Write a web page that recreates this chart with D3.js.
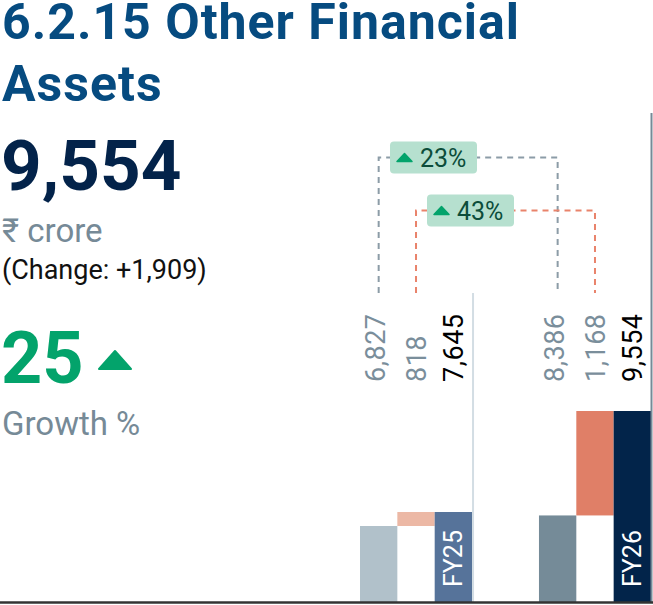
<!DOCTYPE html>
<html>
<head>
<meta charset="utf-8">
<script src="https://cdn.jsdelivr.net/npm/d3@7"></script>
<style>
  body { margin: 0; background: #fff; }
  svg { display: block; font-family: Roboto, "Noto Sans", sans-serif; }
</style>
</head>
<body>
<div id="main"></div>
<script>
// data
const years = ["FY25", "FY26"];
const opening = [6827, 8386];
const change = [818, 1168];
const closing = [7645, 9554];
const headlineTotal = 9554;
const headlineChange = 1909;
const headlineGrowth = 25;

const width = 653;
const height = 605;
const baseY = 602;

const fmt = d3.format(",");

const svg = d3.select("div#main").append("svg")
  .attr("width", width)
  .attr("height", height);

// left-hand headline block
svg.append("text").attr("x", 2).attr("y", 39)
  .attr("font-size", 50).attr("font-weight", 700).attr("fill", "#064b80")
  .attr("letter-spacing", 1)
  .text("6.2.15 Other Financial");
svg.append("text").attr("x", 2).attr("y", 101)
  .attr("font-size", 50).attr("font-weight", 700).attr("fill", "#064b80")
  .attr("letter-spacing", 1)
  .text("Assets");
svg.append("text").attr("x", 1).attr("y", 190)
  .attr("font-size", 71).attr("font-weight", 700).attr("fill", "#03234a")
  .text(fmt(headlineTotal));
svg.append("text").attr("x", 2).attr("y", 242)
  .attr("font-size", 33).attr("fill", "#768a97")
  .text("₹ crore");
svg.append("text").attr("x", 2).attr("y", 279)
  .attr("font-size", 27).attr("fill", "#111")
  .text("(Change: +" + fmt(headlineChange) + ")");
svg.append("text").attr("x", 1).attr("y", 383)
  .attr("font-size", 72).attr("font-weight", 700).attr("fill", "#03a36b")
  .text(headlineGrowth);
svg.append("path")
  .attr("d", "M99,369 L115,351 L131,369 Z")
  .attr("fill", "#03a36b").attr("stroke", "#03a36b")
  .attr("stroke-width", 2).attr("stroke-linejoin", "round");
svg.append("text").attr("x", 2).attr("y", 435)
  .attr("font-size", 33).attr("fill", "#768a97")
  .text("Growth %");

// scales
const x = d3.scaleBand().domain(years).range([360, 651])
  .paddingInner(0.374).paddingOuter(0);
const xi = d3.scaleBand().domain([0, 1, 2]).range([0, x.bandwidth()]);
// each year has its own value window, as in the reference
const yFloor = [2386, 7418];
const yTop = [512, 411];
const y = years.map((yr, i) => d3.scaleLinear()
  .domain([yFloor[i], closing[i]]).range([baseY, yTop[i]]));

const rows = years.map((yr, i) => ({ yr, i, x0: x(yr) }));

const colors = [
  ["#b1c1ca", "#ecb8a5", "#56739a"],
  ["#758b98", "#e07f67", "#02244a"]
];

const g = svg.selectAll("g.year").data(rows).enter().append("g")
  .attr("class", "year")
  .attr("transform", d => "translate(" + d.x0 + ",0)");

// opening bar
g.append("rect")
  .attr("x", xi(0)).attr("width", xi.bandwidth())
  .attr("y", d => y[d.i](opening[d.i]))
  .attr("height", d => baseY - y[d.i](opening[d.i]))
  .attr("fill", d => colors[d.i][0]);
// change bar (floating)
g.append("rect")
  .attr("x", xi(1)).attr("width", xi.bandwidth())
  .attr("y", d => y[d.i](opening[d.i] + change[d.i]))
  .attr("height", d => y[d.i](opening[d.i]) - y[d.i](opening[d.i] + change[d.i]))
  .attr("fill", d => colors[d.i][1]);
// closing bar
g.append("rect")
  .attr("x", xi(2)).attr("width", xi.bandwidth())
  .attr("y", d => y[d.i](closing[d.i]))
  .attr("height", d => baseY - y[d.i](closing[d.i]))
  .attr("fill", d => colors[d.i][2]);

// year label inside closing bar
g.append("text")
  .attr("transform", d => "translate(" + (xi(2) + xi.bandwidth() / 2) + "," + (baseY - 15) + ") rotate(-90)")
  .attr("dy", "0.36em")
  .attr("font-size", 25).attr("fill", "#fff")
  .text(d => d.yr);

// dividers
svg.append("line")
  .attr("x1", x("FY25") + x.bandwidth() + 1).attr("x2", x("FY25") + x.bandwidth() + 1)
  .attr("y1", 293).attr("y2", baseY)
  .attr("stroke", "#d3dde4").attr("stroke-width", 2);
svg.append("line")
  .attr("x1", x("FY26") + x.bandwidth() + 0.5).attr("x2", x("FY26") + x.bandwidth() + 0.5)
  .attr("y1", 113).attr("y2", baseY)
  .attr("stroke", "#768a97").attr("stroke-width", 2);

// value labels, rotated
const labelY = 382;
const labelData = [];
rows.forEach(d => {
  labelData.push({ cx: d.x0 + xi(0) + xi.bandwidth() / 2 - 3, v: opening[d.i], c: "#7a8e9b" });
  labelData.push({ cx: d.x0 + xi(1) + xi.bandwidth() / 2, v: change[d.i], c: "#7a8e9b" });
  labelData.push({ cx: d.x0 + xi(2) + xi.bandwidth() / 2, v: closing[d.i], c: "#000" });
});
svg.selectAll("text.val").data(labelData).enter().append("text")
  .attr("class", "val")
  .attr("transform", d => "translate(" + d.cx + "," + labelY + ") rotate(-90)")
  .attr("dy", "0.36em")
  .attr("font-size", 27)
  .attr("letter-spacing", 0.5)
  .attr("fill", d => d.c)
  .text(d => fmt(d.v));

// connectors between the two years
const connectors = [
  { a: x("FY25") + xi(0) + xi.bandwidth() / 2, b: x("FY26") + xi(0) + xi.bandwidth() / 2,
    top: 157.5, stroke: "#8c9ca7",
    pct: Math.round((opening[1] / opening[0] - 1) * 100), bx: 390 },
  { a: x("FY25") + xi(1) + xi.bandwidth() / 2, b: x("FY26") + xi(1) + xi.bandwidth() / 2,
    top: 210.5, stroke: "#e9836b",
    pct: Math.round((change[1] / change[0] - 1) * 100), bx: 427 }
];
connectors.forEach(c => {
  svg.append("path")
    .attr("d", "M" + c.a + ",293 V" + c.top + " H" + c.b + " V293")
    .attr("fill", "none").attr("stroke", c.stroke)
    .attr("stroke-width", 2).attr("stroke-dasharray", "6,5");
  const b = svg.append("g").attr("transform", "translate(" + c.bx + "," + (c.top - 16) + ")");
  b.append("rect").attr("width", 87).attr("height", 32).attr("rx", 4)
    .attr("fill", "#b6e0cf");
  b.append("path").attr("d", "M7,20 L14.5,12 L22,20 Z")
    .attr("fill", "#03a36b").attr("stroke", "#03a36b")
    .attr("stroke-linejoin", "round").attr("stroke-width", 1.5);
  b.append("text").attr("x", 30).attr("y", 25)
    .attr("font-size", 25).attr("fill", "#0c4d3a")
    .text(c.pct + "%");
});

// baseline
svg.append("line")
  .attr("x1", 0).attr("x2", width)
  .attr("y1", baseY + 0.5).attr("y2", baseY + 0.5)
  .attr("stroke", "#333").attr("stroke-width", 2.5);
</script>
</body>
</html>
